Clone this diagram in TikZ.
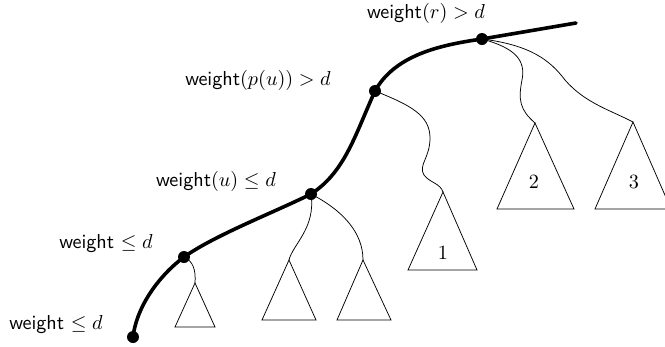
\documentclass[tikz,border=0pt]{standalone}
\tikzset{
  pathline/.style={line width=3.6pt, line cap=round},
  thinline/.style={line width=0.75pt},
  tri/.style={line width=0.75pt},
  dotnode/.style={circle, fill=black, inner sep=0pt, minimum size=12pt},
  lbl/.style={font=\sffamily, inner sep=0pt},
  num/.style={inner sep=0pt}
}
\newcommand{\bigtxt}[1]{\scalebox{2.02}{#1}}
\begin{document}
\begin{tikzpicture}[x=1pt,y=-1pt]
\useasboundingbox (0,0) rectangle (665,346);
\clip (0,0) rectangle (665,346);
% vertices on the path
\coordinate (v0) at (133,337);
\coordinate (v1) at (184,257);
\coordinate (vu) at (311,194);
\coordinate (vp) at (375,91);
\coordinate (vr) at (482,39);
\coordinate (vend) at (576,23);
% triangle apexes
\coordinate (a0) at (195,283);
\coordinate (aA) at (289,260);
\coordinate (aB) at (363,260);
\coordinate (a1) at (443,192);
\coordinate (a2) at (535,123);
\coordinate (a3) at (633,122);
% triangles
\draw[tri] (a0) -- (175,327) -- (215,327) -- cycle;
\draw[tri] (aA) -- (262,320) -- (316,320) -- cycle;
\draw[tri] (aB) -- (337,320) -- (391,320) -- cycle;
\draw[tri] (a1) -- (408,270) -- (477,270) -- cycle;
\draw[tri] (a2) -- (497,209) -- (574,209) -- cycle;
\draw[tri] (a3) -- (595,209) -- (671,209) -- cycle;
\node[num] (n1) at (443,253) {\bigtxt{1}};
\node[num] (n2) at (534,182) {\bigtxt{2}};
\node[num] (n3) at (634,182) {\bigtxt{3}};
% thin subtree connectors
\draw[thinline] (v1) .. controls (193,261) and (196,270) .. (a0);
\draw[thinline] (vu) .. controls (316,228) and (293,244) .. (aA);
\draw[thinline] (vu) .. controls (342,210) and (363,232) .. (aB);
\draw[thinline] (vp) .. controls (410,105) and (430,115) .. (430,138)
   .. controls (430,158) and (418,165) .. (424,175)
   .. controls (430,183) and (440,183) .. (a1);
\draw[thinline] (vr) .. controls (515,48) and (526,60) .. (522,80)
   .. controls (518,100) and (520,110) .. (a2);
\draw[thinline] (vr) .. controls (530,45) and (550,60) .. (565,80)
   .. controls (585,103) and (610,110) .. (a3);
% thick path
\draw[pathline] (v0) .. controls (137,305) and (160,275) .. (v1)
  .. controls (215,235) and (275,212) .. (vu)
  .. controls (345,172) and (355,135) .. (vp)
  .. controls (395,55) and (440,45) .. (vr)
  -- (vend);
% dots
\node[dotnode] (d0) at (v0) {};
\node[dotnode] (d1) at (v1) {};
\node[dotnode] (du) at (vu) {};
\node[dotnode] (dp) at (vp) {};
\node[dotnode] (dr) at (vr) {};
% labels
\node[lbl] (lr) at (426,13) {\bigtxt{weight$(r)>d$}};
\node[lbl] (lp) at (258,80) {\bigtxt{weight$(p(u))>d$}};
\node[lbl] (lu) at (216,181) {\bigtxt{weight$(u)\le d$}};
\node[lbl] (l1) at (106,244) {\bigtxt{weight $\le d$}};
\node[lbl] (l0) at (56,325) {\bigtxt{weight $\le d$}};
\end{tikzpicture}
\end{document}
